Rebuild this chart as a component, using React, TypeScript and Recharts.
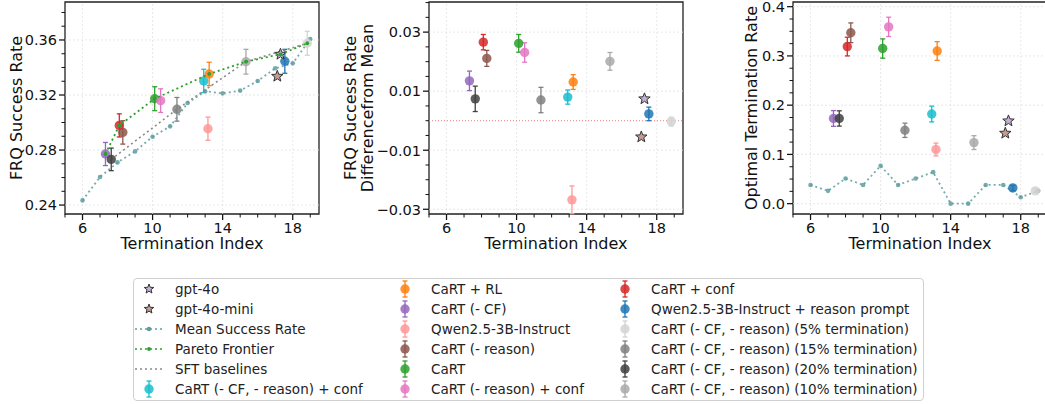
import { ScatterChart, Scatter, XAxis, YAxis, ErrorBar, ReferenceLine, ReferenceArea } from 'recharts';

const methods = [
  'gpt-4o',
  'gpt-4o-mini',
  'CaRT (- CF, - reason) + conf',
  'CaRT + RL',
  'CaRT (- CF)',
  'Qwen2.5-3B-Instruct',
  'CaRT (- reason)',
  'CaRT',
  'CaRT (- reason) + conf',
  'CaRT + conf',
  'Qwen2.5-3B-Instruct + reason prompt',
  'CaRT (- CF, - reason) (5% termination)',
  'CaRT (- CF, - reason) (15% termination)',
  'CaRT (- CF, - reason) (20% termination)',
  'CaRT (- CF, - reason) (10% termination)',
];
const termIndex = [17.3, 17.12, 12.92, 13.23, 7.31, 13.16, 8.3, 10.12, 10.46, 8.1, 17.55, 18.83, 11.39, 7.64, 15.33];
const frqRate = [0.3496, 0.3336, 0.3302, 0.3353, 0.2771, 0.2955, 0.2928, 0.3173, 0.3159, 0.2979, 0.3445, 0.3576, 0.3096, 0.2732, 0.3442];
const frqErr = [0, 0, 0.0085, 0.0085, 0.0084, 0.0084, 0.0085, 0.0087, 0.0086, 0.0084, 0.0087, 0.0087, 0.0086, 0.0082, 0.009];
const frqDiff = [0.0074, -0.0055, 0.008, 0.0131, 0.0135, -0.0268, 0.0211, 0.0262, 0.0231, 0.0266, 0.0023, -0.0003, 0.007, 0.0074, 0.0201];
const frqDiffErr = [0, 0, 0.0024, 0.0025, 0.0033, 0.0047, 0.0027, 0.003, 0.0033, 0.0026, 0.0023, 0.0015, 0.0043, 0.0043, 0.003];
const optRate = [0.168, 0.143, 0.182, 0.31, 0.173, 0.11, 0.347, 0.315, 0.359, 0.319, 0.032, 0.026, 0.149, 0.173, 0.124];
const optErr = [0, 0, 0.016, 0.019, 0.016, 0.013, 0.02, 0.0196, 0.0196, 0.019, 0.005, 0.004, 0.0145, 0.0155, 0.014];

const meanIndex = [6, 7, 8, 9, 10, 11, 12, 13, 14, 15, 16, 17, 18, 19];
const meanFrq = [0.2434, 0.2604, 0.271, 0.279, 0.2897, 0.2972, 0.3142, 0.3227, 0.3212, 0.3232, 0.3302, 0.3394, 0.343, 0.3607];
const meanOpt = [0.038, 0.026, 0.051, 0.038, 0.077, 0.038, 0.051, 0.064, 0, 0, 0.038, 0.038, 0.013, 0.026];

const paretoMembers = ['CaRT (- CF)', 'CaRT + conf', 'CaRT', 'CaRT + RL', 'CaRT (- CF, - reason) (10% termination)', 'gpt-4o', 'CaRT (- CF, - reason) (5% termination)'];
const sftMembers = ['CaRT (- CF, - reason) (20% termination)', 'CaRT (- CF, - reason) (15% termination)', 'CaRT (- CF, - reason) (10% termination)', 'CaRT (- CF, - reason) (5% termination)'];

const xTicks = [5, 6, 7, 8, 9, 10, 11, 12, 13, 14, 15, 16, 17, 18, 19];
const xMajor = [6, 10, 14, 18];
const frqTicks = [0.24, 0.25, 0.26, 0.27, 0.28, 0.29, 0.3, 0.31, 0.32, 0.33, 0.34, 0.35, 0.36, 0.37, 0.38];
const frqMajor = [0.24, 0.28, 0.32, 0.36];
const diffTicks = [-0.03, -0.025, -0.02, -0.015, -0.01, -0.005, 0, 0.005, 0.01, 0.015, 0.02, 0.025, 0.03, 0.035, 0.04];
const diffMajor = [-0.03, -0.01, 0.01, 0.03];
const optTicks = [0, 0.025, 0.05, 0.075, 0.1, 0.125, 0.15, 0.175, 0.2, 0.225, 0.25, 0.275, 0.3, 0.325, 0.35, 0.375, 0.4];
const optMajor = [0, 0.1, 0.2, 0.3, 0.4];

const colors: Record<string, string> = {
  'gpt-4o': '#c5b0d5',
  'gpt-4o-mini': '#c49c94',
  'CaRT (- CF, - reason) + conf': '#17becf',
  'CaRT + RL': '#ff7f0e',
  'CaRT (- CF)': '#9467bd',
  'Qwen2.5-3B-Instruct': '#ff9896',
  'CaRT (- reason)': '#8c564b',
  'CaRT': '#2ca02c',
  'CaRT (- reason) + conf': '#e377c2',
  'CaRT + conf': '#d62728',
  'Qwen2.5-3B-Instruct + reason prompt': '#1f77b4',
  'CaRT (- CF, - reason) (5% termination)': '#d3d3d3',
  'CaRT (- CF, - reason) (15% termination)': '#808080',
  'CaRT (- CF, - reason) (20% termination)': '#404040',
  'CaRT (- CF, - reason) (10% termination)': '#a9a9a9',
};
const stars = ['gpt-4o', 'gpt-4o-mini'];
const MEAN = '#5f9ea0';
const PARETO = '#2ca02c';
const SFT = '#8a8a8a';
const FONT = '"DejaVu Sans", sans-serif';
const INK = '#111';
const X_DOMAIN: [number, number] = [5, 19.5];
const CHART_H = 260;
const PLOT_W = 254;

const near = (a: number, list: number[]) => list.some((m) => Math.abs(m - a) < 1e-9);

function starPath(cx: number, cy: number, R: number, r: number) {
  let d = '';
  for (let i = 0; i < 10; i++) {
    const rad = i % 2 === 0 ? R : r;
    const ang = -Math.PI / 2 + (i * Math.PI) / 5;
    d += (i === 0 ? 'M' : 'L') + (cx + rad * Math.cos(ang)).toFixed(2) + ',' + (cy + rad * Math.sin(ang)).toFixed(2);
  }
  return d + 'Z';
}

const Star = ({ cx, cy, fill, R = 6 }: any) => (
  <path d={starPath(cx, cy, R, R * 0.42)} fill={fill} stroke="#333" strokeWidth={1} />
);
const Dot = ({ cx, cy, fill, r }: any) => <circle cx={cx} cy={cy} r={r} fill={fill} fillOpacity={0.85} />;

function XTick({ x, y, payload }: any) {
  const major = near(payload.value, xMajor);
  return (
    <g>
      <line x1={x} x2={x} y1={y} y2={y + (major ? 6 : 3.5)} stroke={INK} strokeWidth={major ? 1.25 : 1} />
      {major && (
        <text x={x} y={y + 19} textAnchor="middle" fontSize={14.5} fontFamily={FONT} fill={INK}>
          {payload.value}
        </text>
      )}
    </g>
  );
}

function makeYTick(major: number[], fmt: (v: number) => string) {
  return ({ x, y, payload }: any) => {
    const isMajor = near(payload.value, major);
    return (
      <g>
        <line x1={x} x2={x - (isMajor ? 6 : 3.5)} y1={y} y2={y} stroke={INK} strokeWidth={isMajor ? 1.25 : 1} />
        {isMajor && (
          <text x={x - 8} y={y + 5.3} textAnchor="end" fontSize={14.5} fontFamily={FONT} fill={INK}>
            {fmt(payload.value)}
          </text>
        )}
      </g>
    );
  };
}

const XTitle = ({ cx }: any) => (
  <text x={cx} y={249} textAnchor="middle" fontSize={16} fontFamily={FONT} fill={INK}>
    Termination Index
  </text>
);

const YTitle = ({ lines, xs }: any) => (
  <g>
    {lines.map((l: string, i: number) => (
      <text
        key={l}
        transform={`translate(${xs[i]},108) rotate(-90)`}
        textAnchor="middle"
        fontSize={16}
        fontFamily={FONT}
        fill={INK}
      >
        {l}
      </text>
    ))}
  </g>
);

const lookup = (name: string, values: number[]) => {
  const i = methods.indexOf(name);
  return { x: termIndex[i], y: values[i] };
};

type PanelProps = {
  left: number;
  axisW: number;
  domain: [number, number];
  ticks: number[];
  major: number[];
  fmt: (v: number) => string;
  title: string[];
  titleX: number[];
  values: number[];
  errs: number[];
  mean?: number[];
  lines?: boolean;
  zero?: boolean;
};

function Panel(p: PanelProps) {
  const width = p.axisW + PLOT_W + 13;
  const YTick = makeYTick(p.major, p.fmt);
  const meanData = p.mean ? meanIndex.map((x, i) => ({ x, y: p.mean![i] })) : [];
  const pareto = paretoMembers.map((n) => lookup(n, p.values)).sort((a, b) => a.x - b.x);
  const sft = sftMembers.map((n) => lookup(n, p.values)).sort((a, b) => a.x - b.x);
  return (
    <div style={{ position: 'absolute', left: p.left, top: 0 }}>
      <ScatterChart width={width} height={CHART_H} margin={{ top: 2, right: 13, bottom: 0, left: 0 }}>
        <XAxis
          type="number"
          dataKey="x"
          domain={X_DOMAIN}
          ticks={xTicks}
          interval={0}
          allowDataOverflow
          axisLine={false}
          tickLine={false}
          tickSize={0}
          tickMargin={0}
          height={46}
          tick={<XTick />}
          label={<XTitle cx={p.axisW + PLOT_W / 2} />}
        />
        <YAxis
          type="number"
          dataKey="y"
          domain={p.domain}
          ticks={p.ticks}
          interval={0}
          allowDataOverflow
          axisLine={false}
          tickLine={false}
          tickSize={0}
          tickMargin={0}
          width={p.axisW}
          tick={<YTick />}
          label={<YTitle lines={p.title} xs={p.titleX} />}
        />
        {xMajor.map((v) => (
          <ReferenceLine key={'gx' + v} x={v} stroke="#e2e2e2" strokeWidth={0.8} strokeDasharray="2 2" />
        ))}
        {p.major.map((v) => (
          <ReferenceLine key={'gy' + v} y={v} stroke="#e2e2e2" strokeWidth={0.8} strokeDasharray="2 2" />
        ))}
        {p.zero && <ReferenceLine y={0} stroke="#f08080" strokeWidth={1} strokeDasharray="1 2" />}
        <ReferenceArea
          x1={X_DOMAIN[0]}
          x2={X_DOMAIN[1]}
          y1={p.domain[0]}
          y2={p.domain[1]}
          fill="none"
          fillOpacity={0}
          stroke="#222"
          strokeWidth={1.3}
        />
        {p.mean && (
          <Scatter
            data={meanData}
            isAnimationActive={false}
            line={{ stroke: MEAN, strokeWidth: 1.8, strokeDasharray: '2 3', strokeOpacity: 0.85 }}
            shape={(s: any) => <circle cx={s.cx} cy={s.cy} r={2.3} fill={MEAN} fillOpacity={0.85} />}
          />
        )}
        {p.lines && (
          <Scatter
            data={sft}
            isAnimationActive={false}
            line={{ stroke: SFT, strokeWidth: 1.6, strokeDasharray: '2 3' }}
            shape={() => <g />}
          />
        )}
        {methods
          .filter((m) => !stars.includes(m))
          .map((m) => {
            const i = methods.indexOf(m);
            return (
              <Scatter
                key={m}
                data={[{ x: termIndex[i], y: p.values[i], err: p.errs[i] }]}
                isAnimationActive={false}
                shape={(s: any) => <Dot cx={s.cx} cy={s.cy} r={4.7} fill={colors[m]} />}
              >
                <ErrorBar
                  dataKey="err"
                  direction="y"
                  width={2.5}
                  stroke={colors[m]}
                  strokeWidth={1.3}
                  isAnimationActive={false}
                />
              </Scatter>
            );
          })}
        {stars.map((m) => {
          const i = methods.indexOf(m);
          return (
            <Scatter
              key={m}
              data={[{ x: termIndex[i], y: p.values[i] }]}
              isAnimationActive={false}
              shape={(s: any) => <Star cx={s.cx} cy={s.cy} fill={colors[m]} />}
            />
          );
        })}
        {p.lines && (
          <Scatter
            data={pareto}
            isAnimationActive={false}
            line={{ stroke: PARETO, strokeWidth: 1.8, strokeDasharray: '2 3' }}
            shape={(s: any) => <circle cx={s.cx} cy={s.cy} r={1.9} fill={PARETO} />}
          />
        )}
      </ScatterChart>
    </div>
  );
}

const legendCols = [
  ['gpt-4o', 'gpt-4o-mini', 'Mean Success Rate', 'Pareto Frontier', 'SFT baselines', 'CaRT (- CF, - reason) + conf'],
  ['CaRT + RL', 'CaRT (- CF)', 'Qwen2.5-3B-Instruct', 'CaRT (- reason)', 'CaRT', 'CaRT (- reason) + conf'],
  [
    'CaRT + conf',
    'Qwen2.5-3B-Instruct + reason prompt',
    'CaRT (- CF, - reason) (5% termination)',
    'CaRT (- CF, - reason) (15% termination)',
    'CaRT (- CF, - reason) (20% termination)',
    'CaRT (- CF, - reason) (10% termination)',
  ],
];
const colMarkerX = [16, 272, 492];

function LegendMarker({ name, cx, cy }: { name: string; cx: number; cy: number }) {
  if (stars.includes(name)) return <Star cx={cx} cy={cy} fill={colors[name]} R={5} />;
  const lineStyle: Record<string, [string, number]> = {
    'Mean Success Rate': [MEAN, 2.3],
    'Pareto Frontier': [PARETO, 1.9],
    'SFT baselines': [SFT, 0],
  };
  if (lineStyle[name]) {
    const [c, r] = lineStyle[name];
    return (
      <g>
        <line x1={cx - 14} x2={cx + 14} y1={cy} y2={cy} stroke={c} strokeWidth={1.6} strokeDasharray="2 3" />
        {r > 0 && <circle cx={cx} cy={cy} r={r} fill={c} />}
      </g>
    );
  }
  const c = colors[name];
  return (
    <g>
      <line x1={cx} x2={cx} y1={cy - 8} y2={cy + 8} stroke={c} strokeWidth={1.3} />
      <line x1={cx - 2.5} x2={cx + 2.5} y1={cy - 8} y2={cy - 8} stroke={c} strokeWidth={1.3} />
      <line x1={cx - 2.5} x2={cx + 2.5} y1={cy + 8} y2={cy + 8} stroke={c} strokeWidth={1.3} />
      <Dot cx={cx} cy={cy} r={4.7} fill={c} />
    </g>
  );
}

function LegendBox() {
  return (
    <div
      style={{
        position: 'absolute',
        left: 133,
        top: 278,
        width: 791,
        height: 123,
        border: '1px solid #d0d0d0',
        borderRadius: 4,
        boxSizing: 'border-box',
        background: '#fff',
      }}
    >
      <svg width={791} height={123} style={{ position: 'absolute', left: -1, top: -1 }}>
        {legendCols.map((col, ci) =>
          col.map((name, ri) => {
            const cy = 11 + ri * 20;
            return (
              <g key={name}>
                <LegendMarker name={name} cx={colMarkerX[ci]} cy={cy} />
                <text x={colMarkerX[ci] + 26} y={cy + 4.9} fontSize={13.5} fontFamily={FONT} fill="#222">
                  {name}
                </text>
              </g>
            );
          }),
        )}
      </svg>
    </div>
  );
}

const fmt2 = (v: number) => (v < 0 ? '\u2212' + Math.abs(v).toFixed(2) : v.toFixed(2));
const fmt1 = (v: number) => v.toFixed(1);

export default function App() {
  return (
    <div
      style={{
        position: 'absolute',
        left: 0,
        top: 0,
        width: 1045,
        height: 404,
        overflow: 'hidden',
        background: '#fff',
        fontFamily: FONT,
      }}
    >
      <Panel
        left={0}
        axisW={65}
        domain={[0.2335, 0.3876]}
        ticks={frqTicks}
        major={frqMajor}
        fmt={fmt2}
        title={['FRQ Success Rate']}
        titleX={[22]}
        values={frqRate}
        errs={frqErr}
        mean={meanFrq}
        lines
      />
      <Panel
        left={340}
        axisW={89}
        domain={[-0.0316, 0.0402]}
        ticks={diffTicks}
        major={diffMajor}
        fmt={fmt2}
        title={['FRQ Success Rate', 'Differencefrom Mean']}
        titleX={[15.5, 33]}
        values={frqDiff}
        errs={frqDiffErr}
        zero
      />
      <Panel
        left={700}
        axisW={93}
        domain={[-0.021, 0.4095]}
        ticks={optTicks}
        major={optMajor}
        fmt={fmt1}
        title={['Optimal Termination Rate']}
        titleX={[57]}
        values={optRate}
        errs={optErr}
        mean={meanOpt}
      />
      <LegendBox />
    </div>
  );
}
